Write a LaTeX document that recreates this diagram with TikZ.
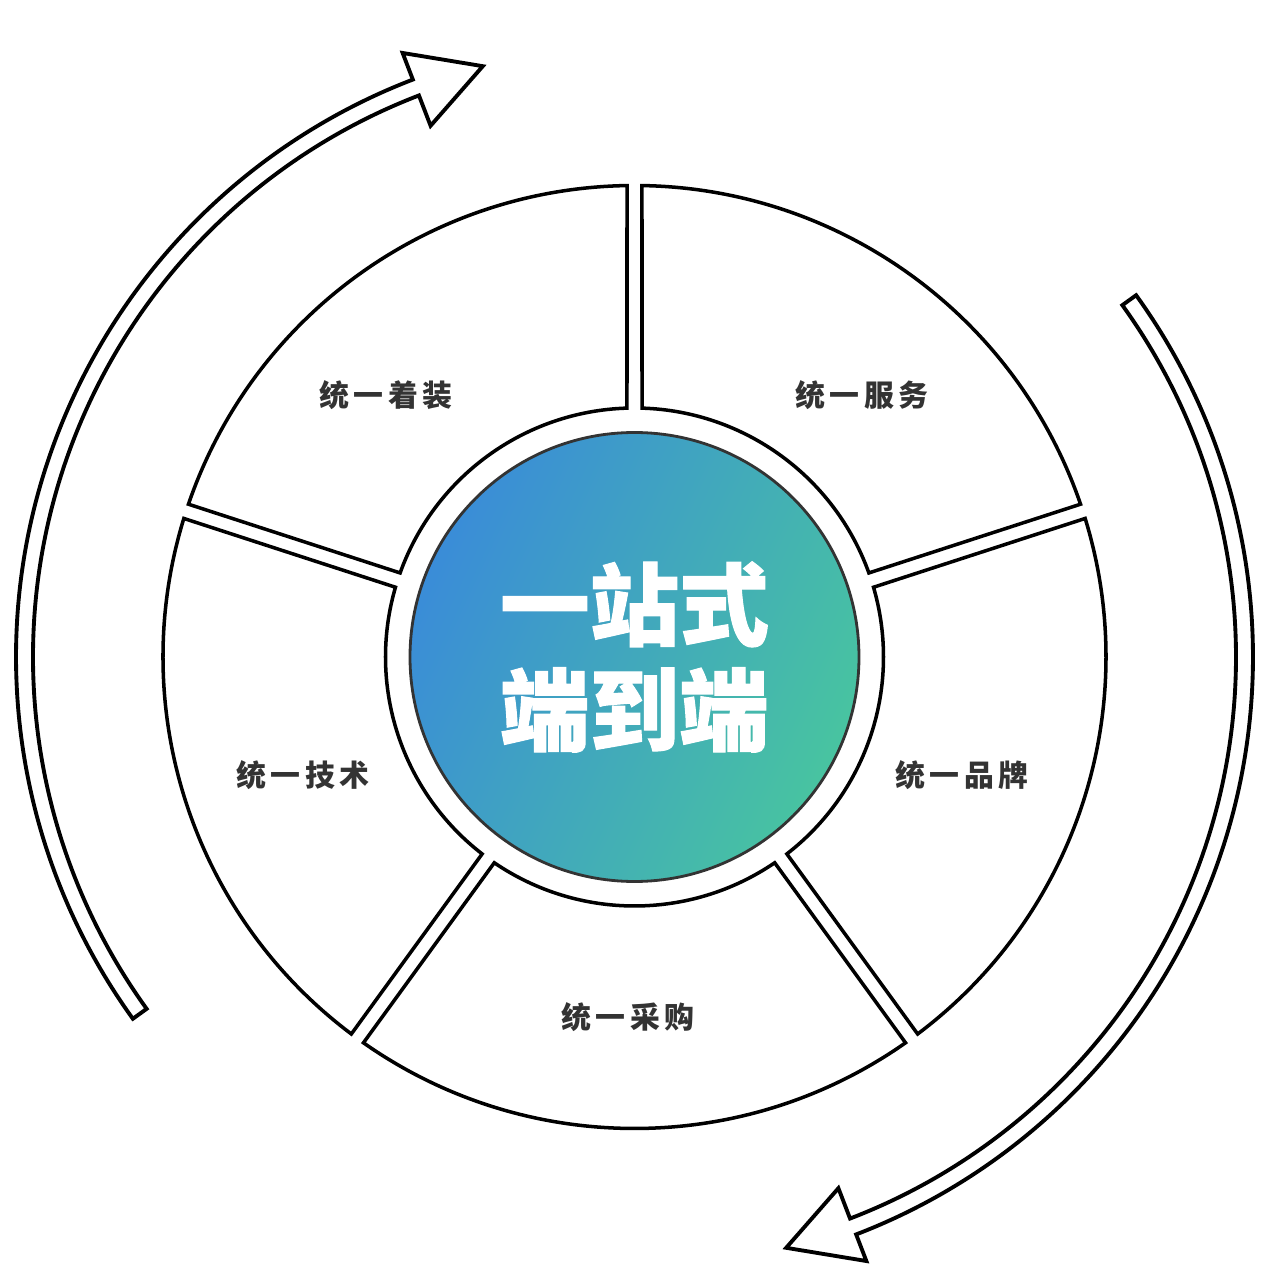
\documentclass[tikz,border=0pt]{standalone}
\usepackage{fontspec}
\newfontfamily\cjk{Noto Sans CJK SC}
\newfontfamily\cjkheavy{Noto Sans CJK SC}[FakeBold=1.2]
\newfontfamily\cjkwide{Noto Sans CJK SC}[LetterSpace=15]
\definecolor{labelgray}{HTML}{333333}
\definecolor{hubblue}{HTML}{3A8CD8}
\definecolor{hubgreen}{HTML}{48C4A0}

\begin{document}
\begin{tikzpicture}
  \tikzstyle{mysegment}=[draw, line width=1pt, fill=white]
  \tikzstyle{mylabel}=[font=\cjkwide\bfseries\fontsize{8.5}{10}\selectfont, text=labelgray]
  \tikzstyle{myarrow}=[draw, line width=1.1pt, fill=white, line join=miter]

  \useasboundingbox (-6.345,-6.19) rectangle (6.415,6.57);

  % two hollow arrows round the wheel
  \foreach \o in {0,-180} {
    \draw[myarrow] ({215.8+\o}:6.185) arc[start angle={215.8+\o}, end angle={111+\o}, radius=6.185]
      -- ({111+\o}:6.47) -- ({104.4+\o}:6.10) -- ({111+\o}:5.69) -- ({111+\o}:6.015)
      arc[start angle={111+\o}, end angle={215.8+\o}, radius=6.015] -- cycle;
  }

  % five segments of the ring
  \foreach \a in {90,162,234,306,18} {
    \draw[mysegment] ({\a+0.91}:4.715) arc[start angle={\a+0.91}, end angle={\a+72-0.91}, radius=4.715]
      -- ({\a+72-1.73}:2.49) arc[start angle={\a+72-1.73}, end angle={\a+1.73}, radius=2.49] -- cycle;
  }

  \node[circle, minimum size=4.49cm, draw=black!80, line width=0.8pt,
        top color=hubblue, bottom color=hubgreen, shading angle=65,
        text=white, align=center, font=\cjkheavy\bfseries\fontsize{25.5}{29.9}\selectfont] (hub) at (0,0) {一站式\\端到端};

  \node[mylabel] (dress) at (-2.485, 2.62) {统一着装};
  \node[mylabel] (service) at (2.275, 2.62) {统一服务};
  \node[mylabel] (brand) at (3.275, -1.18) {统一品牌};
  \node[mylabel] (purchase) at (-0.065, -3.60) {统一采购};
  \node[mylabel] (tech) at (-3.315, -1.18) {统一技术};

\end{tikzpicture}
\end{document}
